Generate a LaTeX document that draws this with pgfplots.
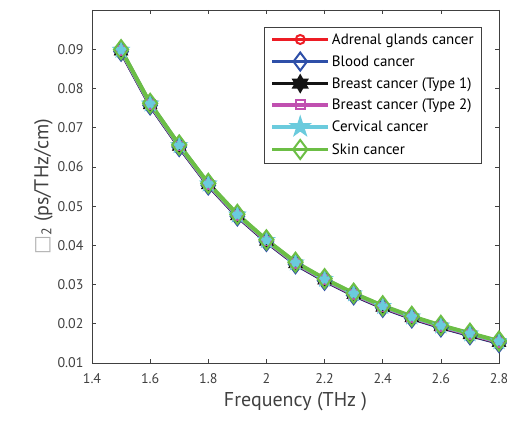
\documentclass[border=0pt]{standalone}
\usepackage{fontspec}
\setmainfont{PT Sans}
\newfontfamily\dejavu{DejaVu Sans}
\usepackage{pgfplots}
\pgfplotsset{compat=1.18}
\definecolor{cred}{RGB}{237,28,36}
\definecolor{cblue}{RGB}{46,79,168}
\definecolor{cblack}{RGB}{20,20,20}
\definecolor{cmag}{RGB}{192,80,176}
\definecolor{ccyan}{RGB}{107,203,221}
\definecolor{cgreen}{RGB}{108,190,69}
\definecolor{axgray}{RGB}{64,64,64}
\pgfdeclareplotmark{pentagram}{%
 \pgfpathmoveto{\pgfpointpolar{90}{\pgfplotmarksize}}%
 \pgfpathlineto{\pgfpointpolar{126}{0.382\pgfplotmarksize}}%
 \pgfpathlineto{\pgfpointpolar{162}{\pgfplotmarksize}}%
 \pgfpathlineto{\pgfpointpolar{198}{0.382\pgfplotmarksize}}%
 \pgfpathlineto{\pgfpointpolar{234}{\pgfplotmarksize}}%
 \pgfpathlineto{\pgfpointpolar{270}{0.382\pgfplotmarksize}}%
 \pgfpathlineto{\pgfpointpolar{306}{\pgfplotmarksize}}%
 \pgfpathlineto{\pgfpointpolar{342}{0.382\pgfplotmarksize}}%
 \pgfpathlineto{\pgfpointpolar{18}{\pgfplotmarksize}}%
 \pgfpathlineto{\pgfpointpolar{54}{0.382\pgfplotmarksize}}%
 \pgfpathclose\pgfusepathqfillstroke}
\pgfdeclareplotmark{hexagram}{%
 \pgfpathmoveto{\pgfpointpolar{90}{\pgfplotmarksize}}%
 \pgfpathlineto{\pgfpointpolar{120}{0.577\pgfplotmarksize}}%
 \pgfpathlineto{\pgfpointpolar{150}{\pgfplotmarksize}}%
 \pgfpathlineto{\pgfpointpolar{180}{0.577\pgfplotmarksize}}%
 \pgfpathlineto{\pgfpointpolar{210}{\pgfplotmarksize}}%
 \pgfpathlineto{\pgfpointpolar{240}{0.577\pgfplotmarksize}}%
 \pgfpathlineto{\pgfpointpolar{270}{\pgfplotmarksize}}%
 \pgfpathlineto{\pgfpointpolar{300}{0.577\pgfplotmarksize}}%
 \pgfpathlineto{\pgfpointpolar{330}{\pgfplotmarksize}}%
 \pgfpathlineto{\pgfpointpolar{0}{0.577\pgfplotmarksize}}%
 \pgfpathlineto{\pgfpointpolar{30}{\pgfplotmarksize}}%
 \pgfpathlineto{\pgfpointpolar{60}{0.577\pgfplotmarksize}}%
 \pgfpathclose\pgfusepathqfillstroke}
\begin{document}
\begin{tikzpicture}
\begin{axis}[
  scale only axis,
  width=407pt, height=353pt,
  xmin=1.4, xmax=2.8, ymin=0.01, ymax=0.1,
  xtick={1.4,1.6,...,2.8},
  ytick={0.01,0.02,...,0.09},
  scaled y ticks=false,
  yticklabel style={/pgf/number format/fixed,/pgf/number format/precision=2,/pgf/number format/fixed zerofill},
  /pgf/number format/assume math mode=true,
  tick align=inside,
  major tick length=4pt,
  axis line style={axgray, line width=0.6pt},
  tick style={axgray, line width=0.6pt},
  ticklabel style={font=\fontsize{14}{16}\selectfont, text=axgray},
  xticklabel style={yshift=-7pt},
  yticklabel style={xshift=-5pt},
  xlabel={Frequency (THz )},
  ylabel={{\dejavu\color{gray!60}□}\textsubscript{2} (ps/THz/cm)},
  label style={font=\fontsize{20}{22}\selectfont, text=axgray},
  xlabel style={yshift=-2pt},
  ylabel style={yshift=-2pt},
  legend style={at={(1,1)}, anchor=north east, xshift=-17pt, yshift=-17pt,
    draw=axgray, line width=0.8pt, font=\fontsize{15}{17}\selectfont,
    inner xsep=6pt, inner ysep=4pt, row sep=5pt, cells={anchor=west}},
  legend cell align=left,
  legend image code/.code={%
    \draw[line width=3.5pt, mark repeat=2,mark phase=2, mark options={line width=2pt}] plot coordinates {(0pt,0pt) (28pt,0pt) (56pt,0pt)};},
]
\addplot[cred, line width=4pt, mark=o, mark size=4.5pt, mark options={line width=1.8pt}] coordinates {
(1.5,0.0897)(1.6,0.0760)(1.7,0.0654)(1.8,0.0556)(1.9,0.0477)(2.0,0.0412)(2.1,0.0355)
(2.2,0.0313)(2.3,0.0276)(2.4,0.0244)(2.5,0.0217)(2.6,0.0194)(2.7,0.0174)(2.8,0.0154)};
\addlegendentry{Adrenal glands cancer}
\addplot[cblue, line width=4pt, mark=diamond, mark size=9pt, mark options={line width=2pt}] coordinates {
(1.5,0.0894)(1.6,0.0757)(1.7,0.0651)(1.8,0.0553)(1.9,0.0474)(2.0,0.0409)(2.1,0.0352)
(2.2,0.0310)(2.3,0.0273)(2.4,0.0241)(2.5,0.0214)(2.6,0.0191)(2.7,0.0171)(2.8,0.0151)};
\addlegendentry{Blood cancer}
\addplot[cblack, line width=4pt, mark=hexagram, mark size=8pt, mark options={line width=0.5pt, fill=cblack}] coordinates {
(1.5,0.0895)(1.6,0.0758)(1.7,0.0652)(1.8,0.0554)(1.9,0.0475)(2.0,0.0410)(2.1,0.0353)
(2.2,0.0311)(2.3,0.0274)(2.4,0.0242)(2.5,0.0215)(2.6,0.0192)(2.7,0.0172)(2.8,0.0152)};
\addlegendentry{Breast cancer (Type 1)}
\addplot[cmag, line width=4pt, mark=square, mark size=4.5pt, mark options={line width=1.8pt}] coordinates {
(1.5,0.0896)(1.6,0.0759)(1.7,0.0653)(1.8,0.0555)(1.9,0.0476)(2.0,0.0411)(2.1,0.0354)
(2.2,0.0312)(2.3,0.0275)(2.4,0.0243)(2.5,0.0216)(2.6,0.0193)(2.7,0.0173)(2.8,0.0153)};
\addlegendentry{Breast cancer (Type 2)}
\addplot[ccyan, line width=4pt, mark=pentagram, mark size=9pt, mark options={line width=0.5pt, fill=ccyan}] coordinates {
(1.5,0.0898)(1.6,0.0761)(1.7,0.0655)(1.8,0.0557)(1.9,0.0478)(2.0,0.0413)(2.1,0.0356)
(2.2,0.0314)(2.3,0.0277)(2.4,0.0245)(2.5,0.0218)(2.6,0.0195)(2.7,0.0175)(2.8,0.0155)};
\addlegendentry{Cervical cancer}
\addplot[cgreen, line width=4pt, mark=diamond, mark size=9.5pt, mark options={line width=2pt}] coordinates {
(1.5,0.0899)(1.6,0.0762)(1.7,0.0656)(1.8,0.0558)(1.9,0.0479)(2.0,0.0414)(2.1,0.0357)
(2.2,0.0315)(2.3,0.0278)(2.4,0.0246)(2.5,0.0219)(2.6,0.0196)(2.7,0.0176)(2.8,0.0156)};
\addlegendentry{Skin cancer}
\end{axis}
\pgfresetboundingbox
\path ([shift={(-92pt,-60pt)}]current axis.south west) rectangle ([shift={(8pt,10pt)}]current axis.north east);
\end{tikzpicture}
\end{document}
